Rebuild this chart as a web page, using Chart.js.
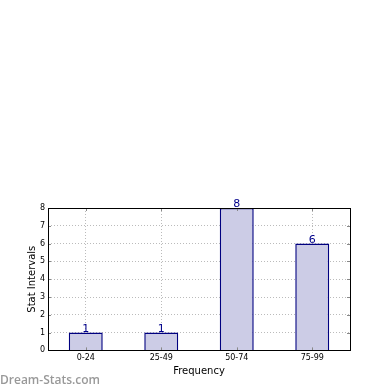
<!DOCTYPE html>
<html><head><meta charset="utf-8">
<script src="https://cdn.jsdelivr.net/npm/chart.js@4/dist/chart.umd.min.js"></script>
<style>
html,body{margin:0;padding:0;background:#fff;}
#wrap{position:relative;width:390px;height:390px;}
#wm{position:absolute;left:0;top:371px;font-family:"Open Sans",sans-serif;font-weight:600;font-size:12px;color:#999;}
</style></head><body>
<div id="wrap"><canvas id="c" width="390" height="390"></canvas><div id="wm">Dream-Stats.com</div></div>
<script>
const categories = ["0-24","25-49","50-74","75-99"];
const counts = [1,1,8,6];
const yTicks = [0,1,2,3,4,5,6,7,8];

const frame = {
  id:'frame',
  afterDraw(chart){
    const {ctx, chartArea:a} = chart;
    ctx.save();
    ctx.strokeStyle='#888'; ctx.lineWidth=1;
    const ys = chart.scales.y;
    yTicks.forEach(v=>{
      const py = Math.round(ys.getPixelForValue(v))+0.5;
      ctx.beginPath(); ctx.moveTo(a.left,py); ctx.lineTo(a.left+3,py);
      ctx.moveTo(a.right,py); ctx.lineTo(a.right-3,py); ctx.stroke();
    });
    const xs = chart.scales.x;
    categories.forEach((c,i)=>{
      const px = Math.round(xs.getPixelForValue(i))+0.5;
      ctx.beginPath(); ctx.moveTo(px,a.bottom); ctx.lineTo(px,a.bottom-3);
      ctx.moveTo(px,a.top); ctx.lineTo(px,a.top+3); ctx.stroke();
    });
    ctx.strokeStyle='#000';
    ctx.strokeRect(Math.round(a.left)+0.5, Math.round(a.top)+0.5, Math.round(a.right-a.left), Math.round(a.bottom-a.top));
    const meta = chart.getDatasetMeta(0);
    ctx.fillStyle='#00008b';
    ctx.font='11px "DejaVu Sans", sans-serif';
    ctx.textAlign='center'; ctx.textBaseline='bottom';
    meta.data.forEach((bar,i)=>{
      ctx.fillText(String(counts[i]), bar.x, bar.y+2);
    });
    ctx.restore();
  }
};

new Chart(document.getElementById('c'),{
  type:'bar',
  data:{labels:categories,datasets:[{data:counts,backgroundColor:'rgb(204,204,230)',borderColor:'#000080',borderWidth:1.5,barPercentage:0.45,categoryPercentage:1}]},
  options:{
    responsive:false,animation:false,
    layout:{padding:{top:208,left:26,right:40,bottom:13}},
    plugins:{legend:{display:false},tooltip:{enabled:false}},
    scales:{
      x:{
        grid:{offset:false,color:'#bbb',drawTicks:false},
        border:{display:false,dash:[1,2]},
        ticks:{color:'#000',font:{family:'"DejaVu Sans", sans-serif',size:8},padding:3},
        title:{display:true,text:'Frequency',color:'#000',font:{family:'"DejaVu Sans", sans-serif',size:10},padding:{top:-1,bottom:0}}
      },
      y:{
        min:0,max:8,
        afterBuildTicks(s){s.ticks=yTicks.map(v=>({value:v}));},
        afterFit(s){s.width=22;},
        grid:{color:'#bbb',drawTicks:false},
        border:{display:false,dash:[1,2]},
        ticks:{color:'#000',font:{family:'"DejaVu Sans", sans-serif',size:8},padding:3},
        title:{display:true,text:'Stat Intervals',color:'#000',font:{family:'"DejaVu Sans", sans-serif',size:10},padding:{top:0,bottom:1}}
      }
    }
  },
  plugins:[frame]
});
</script>
</body></html>
